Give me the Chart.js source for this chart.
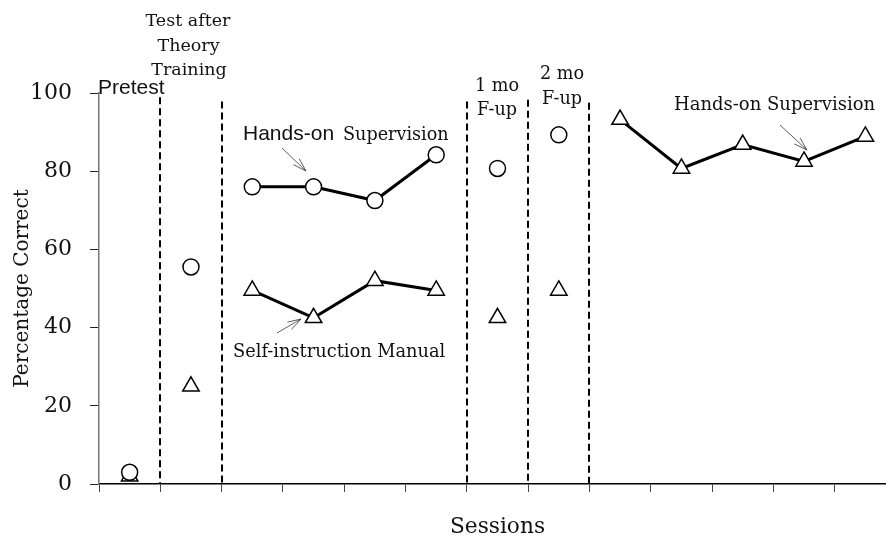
<!DOCTYPE html>
<html>
<head>
<meta charset="utf-8">
<script src="https://cdn.jsdelivr.net/npm/chart.js@4/dist/chart.umd.min.js"></script>
<style>
  html, body { margin: 0; padding: 0; background: #fff; overflow: hidden; }
  #wrap { position: relative; width: 907px; height: 540px; }
</style>
</head>
<body>
<div id="wrap"><canvas id="c"></canvas></div>
<script>
// ---- data ----
const sessions = ['1','2','3','4','5','6','7','8','9','10','11','12','13'];
const phases = [0, 1, 2, 2, 2, 2, 3, 4, 5, 5, 5, 5, 5];
const circleValues = [3, 55.5, 76, 76, 72.5, 84.2, 80.7, 89.3, null, null, null, null, null];
const triangleValues = [2, 25, 49.5, 42.5, 52, 49.5, 42.5, 49.5, 93.2, 80.7, 86.8, 82.5, 88.9];
const yTicks = [0, 20, 40, 60, 80, 100];
// phase boundaries: dashed line drawn after these category indices
const boundaryAfter = [0, 1, 5, 6, 7];
const boundaryTop = [98.9, 97.8, 97.8, 98.3, 97.5];

const SERIF = '"DejaVu Serif", serif';
const SANS = '"Liberation Sans", Arial, sans-serif';

const segColor = ctx => phases[ctx.p0DataIndex] === phases[ctx.p1DataIndex] ? '#000' : 'rgba(0,0,0,0)';

const annot = {
  id: 'annot',
  beforeDatasetsDraw(chart) {
    const {ctx, scales: {x, y}, chartArea} = chart;
    ctx.save();
    ctx.strokeStyle = '#000';
    ctx.lineWidth = 2;
    ctx.setLineDash([7, 4]);
    boundaryAfter.forEach((i, k) => {
      const px = Math.round((x.getPixelForValue(i) + x.getPixelForValue(i + 1)) / 2);
      ctx.beginPath();
      ctx.moveTo(px, y.getPixelForValue(boundaryTop[k]));
      ctx.lineTo(px, chartArea.bottom);
      ctx.stroke();
    });
    ctx.restore();
  },
  afterDatasetsDraw(chart) {
    const {ctx} = chart;
    ctx.save();
    ctx.fillStyle = '#111';
    ctx.textBaseline = 'alphabetic';
    const txt = (s, x0, y0, font, align) => { ctx.font = font; ctx.textAlign = align || 'left'; ctx.fillText(s, x0, y0); };
    txt('Test after', 188, 26, '17.5px ' + SERIF, 'center');
    txt('Theory', 188.5, 50.5, '17.5px ' + SERIF, 'center');
    txt('Training', 189, 75, '17.5px ' + SERIF, 'center');
    txt('Pretest', 98, 94, '21px ' + SANS);
    txt('Hands-on', 243, 140, '21px ' + SANS);
    txt('Supervision', 343, 140, '17.6px ' + SERIF);
    txt('Self-instruction Manual', 233, 357, '17.8px ' + SERIF);
    txt('1 mo', 497, 91, '17.6px ' + SERIF, 'center');
    txt('F-up', 497, 115, '17.6px ' + SERIF, 'center');
    txt('2 mo', 562, 79, '17.6px ' + SERIF, 'center');
    txt('F-up', 562, 104, '17.6px ' + SERIF, 'center');
    txt('Hands-on Supervision', 674, 110, '18px ' + SERIF);
    const arrow = (x0, y0, x1, y1) => {
      ctx.strokeStyle = '#333';
      ctx.lineWidth = 0.8;
      ctx.beginPath(); ctx.moveTo(x0, y0); ctx.lineTo(x1, y1); ctx.stroke();
      const a = Math.atan2(y1 - y0, x1 - x0);
      const L = 14, sp = 0.3;
      ctx.beginPath();
      ctx.moveTo(x1 - L * Math.cos(a - sp), y1 - L * Math.sin(a - sp));
      ctx.lineTo(x1, y1);
      ctx.lineTo(x1 - L * Math.cos(a + sp), y1 - L * Math.sin(a + sp));
      ctx.stroke();
    };
    arrow(282, 148, 306, 171);
    arrow(277, 333, 301, 319);
    arrow(780, 125, 807, 150);
    ctx.restore();
  }
};

new Chart(document.getElementById('c'), {
  type: 'line',
  data: {
    labels: sessions,
    datasets: [
      {
        label: 'Circles',
        data: circleValues,
        borderColor: '#000',
        borderWidth: 3,
        pointStyle: 'circle',
        pointRadius: 8,
        pointBorderWidth: 1.5,
        pointBackgroundColor: '#fff',
        pointBorderColor: '#000',
        spanGaps: false,
        segment: { borderColor: segColor }
      },
      {
        label: 'Triangles',
        data: triangleValues,
        borderColor: '#000',
        borderWidth: 3,
        pointStyle: 'triangle',
        pointRadius: 9.5,
        pointBorderWidth: 1.5,
        pointBackgroundColor: '#fff',
        pointBorderColor: '#000',
        spanGaps: false,
        segment: { borderColor: segColor }
      }
    ]
  },
  options: {
    responsive: true,
    maintainAspectRatio: false,
    animation: false,
    devicePixelRatio: 1,
    layout: { padding: { top: 93, right: 5, left: 0, bottom: 0 } },
    plugins: { legend: { display: false }, tooltip: { enabled: false } },
    scales: {
      x: {
        type: 'category',
        offset: true,
        grid: { offset: true, drawOnChartArea: false, drawTicks: true, tickLength: 8, color: '#444', lineWidth: 1 },
        border: { display: true, color: '#000', width: 1.5 },
        ticks: { display: false },
        title: { display: true, text: 'Sessions', font: { family: SERIF, size: 21.7 }, color: '#111', padding: { top: 1, bottom: 0 } },
        afterFit: s => { s.height = 56; }
      },
      y: {
        min: 0,
        max: 100,
        afterBuildTicks: s => { s.ticks = yTicks.map(v => ({ value: v })); },
        grid: { drawOnChartArea: false, drawTicks: true, tickLength: 9, color: '#222', lineWidth: 1 },
        border: { display: true, color: '#777', width: 1.5 },
        ticks: { font: { family: SERIF, size: 22 }, color: '#111', padding: 18 },
        title: { display: true, text: 'Percentage Correct', font: { family: SERIF, size: 20 }, color: '#111', padding: { top: 10.5, bottom: 0 } },
        afterFit: s => { s.width = 99; }
      }
    }
  },
  plugins: [annot]
});
</script>
</body>
</html>
